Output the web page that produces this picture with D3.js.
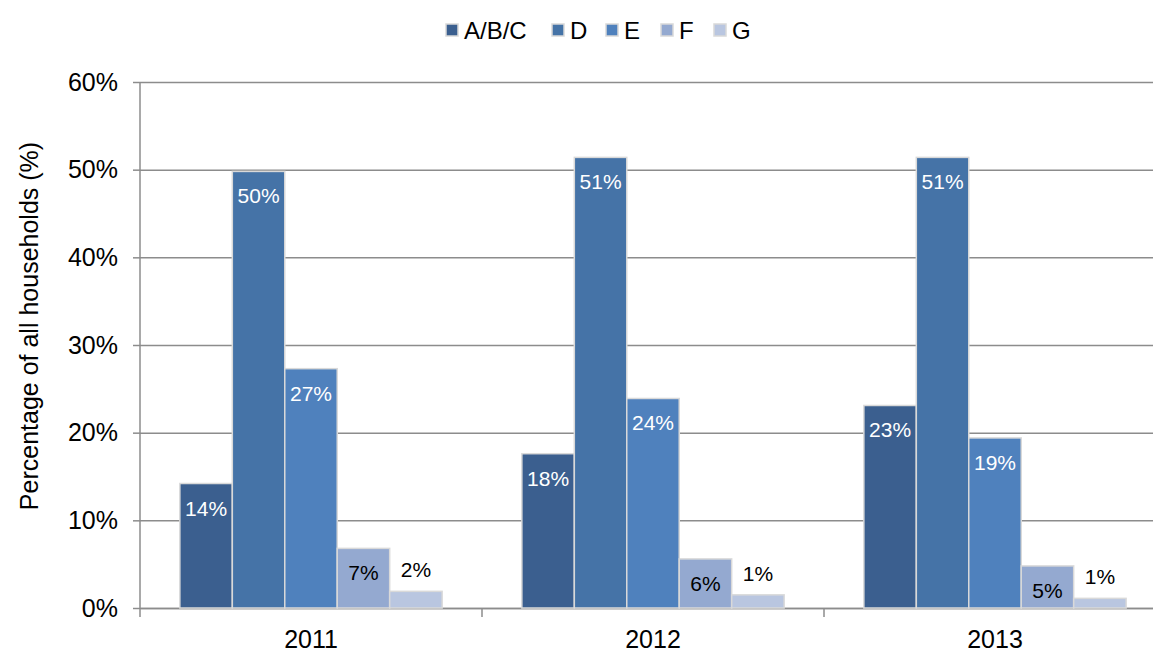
<!DOCTYPE html>
<html>
<head>
<meta charset="utf-8">
<script src="https://cdn.jsdelivr.net/npm/d3@7"></script>
<style>
  body { margin: 0; background: #fff; }
  svg { font-family: "Liberation Sans", Arial, sans-serif; }
</style>
</head>
<body>
<svg width="1153" height="651"></svg>
<script>
const years = ['2011', '2012', '2013'];
const bands = ['A/B/C', 'D', 'E', 'F', 'G'];
const colors = ['#3b5f8f', '#4573a7', '#4f81bd', '#94a9d0', '#b9c6e0'];
// percentage of households in each band, per year
const abc = [14.2, 17.6, 23.1];
const dBand = [49.8, 51.4, 51.4];
const eBand = [27.3, 23.9, 19.4];
const fBand = [6.8, 5.6, 4.8];
const gBand = [1.9, 1.5, 1.1];
const labels = [
  ['14%', '18%', '23%'],
  ['50%', '51%', '51%'],
  ['27%', '24%', '19%'],
  ['7%', '6%', '5%'],
  ['2%', '1%', '1%']
];
const yTicks = [0, 10, 20, 30, 40, 50, 60];

const svg = d3.select('svg');
const width = +svg.attr('width');
const height = +svg.attr('height');
const margin = {top: 82, right: -13, bottom: 43, left: 140};
const innerWidth = width - margin.left - margin.right;
const innerHeight = height - margin.top - margin.bottom;

const seriesValues = [abc, dBand, eBand, fBand, gBand];
const data = [];
years.forEach((yr, i) => {
  bands.forEach((b, j) => {
    data.push({year: yr, band: b, value: seriesValues[j][i], label: labels[j][i], idx: j});
  });
});

const xScale = d3.scaleBand().domain(years).range([0, innerWidth]).padding(0);
const x1 = d3.scaleBand().domain(bands).range([0, xScale.bandwidth()]).paddingInner(0).paddingOuter(0.76);
const yScale = d3.scaleLinear().domain([0, 60]).range([innerHeight, 0]);

const g = svg.append('g').attr('transform', `translate(${margin.left}, ${margin.top})`);

// gridlines
g.append('g')
  .call(d3.axisLeft(yScale).tickValues(yTicks).tickSize(-innerWidth).tickFormat(''))
  .call(s => s.select('.domain').remove())
  .call(s => s.selectAll('.tick text').remove())
  .selectAll('.tick line')
    .attr('stroke', '#8c8c8c')
    .attr('stroke-width', 1.5);

// y axis
const yAxisG = g.append('g')
  .call(d3.axisLeft(yScale).tickValues(yTicks).tickSize(7).tickPadding(15).tickFormat(d => d + '%'));
yAxisG.select('.domain').attr('stroke', '#8c8c8c').attr('stroke-width', 1.5).attr('d', `M0,0V${innerHeight}`);
yAxisG.selectAll('.tick line').attr('stroke', '#8c8c8c').attr('stroke-width', 1.5);
yAxisG.selectAll('.tick text').attr('font-size', 25).attr('fill', '#000');

// x axis
const xAxisG = g.append('g')
  .attr('transform', `translate(0, ${innerHeight})`)
  .call(d3.axisBottom(xScale).tickSize(0).tickPadding(22));
xAxisG.select('.domain').attr('stroke', '#8c8c8c').attr('stroke-width', 1.5);
xAxisG.selectAll('.tick text').attr('font-size', 25).attr('fill', '#000');
xAxisG.selectAll('.sep').data(years)
  .enter().append('line')
    .attr('class', 'sep')
    .attr('x1', d => xScale(d)).attr('x2', d => xScale(d))
    .attr('y1', 0).attr('y2', 9)
    .attr('stroke', '#8c8c8c').attr('stroke-width', 1.5);

// bars
const bars = g.selectAll('.bar').data(data)
  .enter().append('g')
    .attr('class', 'bar')
    .attr('transform', d => `translate(${xScale(d.year) + x1(d.band)}, 0)`);

bars.append('rect')
  .attr('y', d => yScale(d.value))
  .attr('width', x1.bandwidth())
  .attr('height', d => innerHeight - yScale(d.value))
  .attr('fill', d => colors[d.idx])
  .attr('stroke', '#d9d9d9')
  .attr('stroke-width', 1.5);

bars.append('text')
  .attr('x', x1.bandwidth() / 2)
  .attr('y', d => d.idx === 4 ? yScale(d.value) - 14 : yScale(d.value) + 32)
  .attr('text-anchor', 'middle')
  .attr('font-size', 21)
  .attr('fill', d => d.idx >= 3 ? '#000' : '#fff')
  .text(d => d.label);

// y axis title
svg.append('text')
  .attr('transform', `translate(38, 326) rotate(-90)`)
  .attr('text-anchor', 'middle')
  .attr('font-size', 25)
  .text('Percentage of all households (%)');

// legend
const legendX = [445, 551, 605, 660, 713];
const legend = svg.append('g').selectAll('g').data(bands)
  .enter().append('g')
    .attr('transform', (d, i) => `translate(${legendX[i]}, 30)`);
legend.append('rect')
  .attr('x', 1).attr('y', -6)
  .attr('width', 12).attr('height', 12)
  .attr('fill', (d, i) => colors[i])
  .attr('stroke', '#d9d9d9')
  .attr('stroke-width', 1.5);
legend.append('text')
  .attr('x', 19).attr('y', 9)
  .attr('font-size', 24)
  .text(d => d);
</script>
</body>
</html>
